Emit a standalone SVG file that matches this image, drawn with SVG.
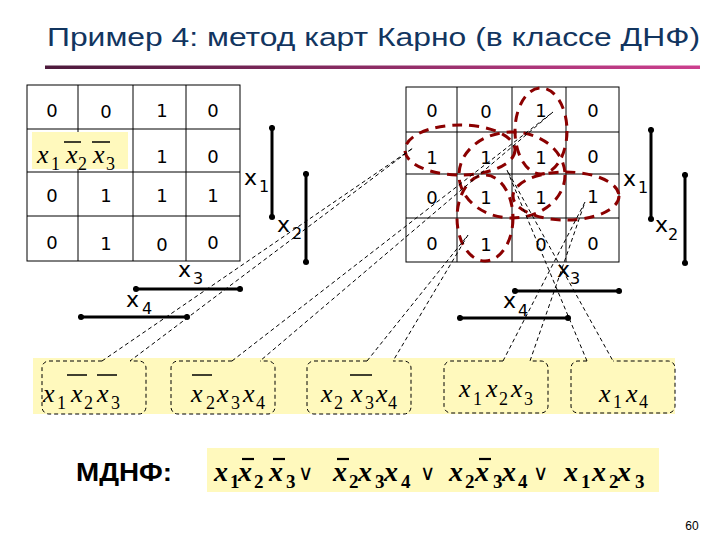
<svg xmlns="http://www.w3.org/2000/svg" width="720" height="540" viewBox="0 0 720 540">
<defs>
<linearGradient id="ul" x1="0" x2="1" y1="0" y2="0"><stop offset="0" stop-color="#4d1a3c"/><stop offset="1" stop-color="#cc3f8e"/></linearGradient>
<marker id="dot" viewBox="-4 -4 8 8" markerWidth="7" markerHeight="7" markerUnits="userSpaceOnUse"><circle r="3.5" fill="#000"/></marker>
</defs>
<style>
.grid{fill:none;stroke:#000;stroke-width:1}
.d{font-family:"DejaVu Sans",Verdana,sans-serif;font-size:18px;fill:#000;text-anchor:middle}
.lbl{font-family:"DejaVu Sans",Verdana,sans-serif;font-size:22px;fill:#000}
.lbl .s{font-size:16px}
.br{stroke:#000;stroke-width:3;marker-start:url(#dot);marker-end:url(#dot)}
.m{font-family:"Liberation Serif","Times New Roman",serif;font-style:italic;font-size:26px;fill:#000}
.m .s{font-size:18px;font-style:normal}
.mb{font-family:"Liberation Serif","Times New Roman",serif;font-style:italic;font-weight:bold;font-size:28px;fill:#000}
.mb .s{font-size:19px;font-style:normal}
.mb .or{font-family:"DejaVu Sans",sans-serif;font-weight:normal;font-style:normal;font-size:21px}
.bar{stroke:#000;stroke-width:1.5}
.barb{stroke:#000;stroke-width:2.2}
.ov{fill:none;stroke:#8b0000;stroke-width:3;stroke-dasharray:10 7}
.co{fill:none;stroke:#000;stroke-width:1;stroke-dasharray:4 3}
.cb{fill:none;stroke:#000;stroke-width:1;stroke-dasharray:4 3}
.hl{fill:#fff9bd}
</style>
<rect width="720" height="540" fill="#fff"/>

<g id="title">
<text x="47" y="46" font-family="Liberation Sans, Arial, sans-serif" font-size="25" fill="#12355f" textLength="653" lengthAdjust="spacingAndGlyphs">Пример 4: метод карт Карно (в классе ДНФ)</text>
<rect x="45" y="65.5" width="655" height="3.5" fill="url(#ul)"/>
</g>

<g id="map-left">
<rect class="grid" x="27" y="85" width="213" height="176"/>
<path class="grid" d="M78,85V261M133,85V261M186,85V261M27,129H240M27,172H240M27,216H240"/>
<rect class="hl" x="32" y="132" width="96" height="37"/>
<text class="m" y="163"><tspan x="37">x</tspan><tspan class="s" x="51" y="170">1</tspan><tspan x="66" y="163">x</tspan><tspan class="s" x="78" y="170">2</tspan><tspan x="93" y="163">x</tspan><tspan class="s" x="106" y="170">3</tspan></text>
<line class="bar" x1="64" y1="142" x2="81" y2="142"/>
<line class="bar" x1="92" y1="142" x2="110" y2="142"/>
<text class="d" x="52" y="117">0</text><text class="d" x="106" y="118">0</text><text class="d" x="162" y="117">1</text><text class="d" x="213" y="117">0</text>
<text class="d" x="162" y="163">1</text><text class="d" x="213" y="163">0</text>
<text class="d" x="52" y="202">0</text><text class="d" x="106" y="202">1</text><text class="d" x="162" y="202">1</text><text class="d" x="213" y="202">1</text>
<text class="d" x="52" y="249">0</text><text class="d" x="106" y="250">1</text><text class="d" x="162" y="251">0</text><text class="d" x="213" y="249">0</text>
</g>

<g id="vars-left">
<line class="br" x1="272" y1="128" x2="272" y2="217"/>
<line class="br" x1="306" y1="174" x2="306" y2="262"/>
<line class="br" x1="136" y1="289" x2="240" y2="289"/>
<line class="br" x1="81" y1="317" x2="187" y2="317"/>
<text class="lbl"><tspan x="244" y="185">x</tspan><tspan class="s" x="259" y="192">1</tspan></text>
<text class="lbl"><tspan x="277" y="232">x</tspan><tspan class="s" x="292" y="239">2</tspan></text>
<text class="lbl"><tspan x="178" y="277">x</tspan><tspan class="s" x="193" y="284">3</tspan></text>
<text class="lbl"><tspan x="126" y="307">x</tspan><tspan class="s" x="142" y="314">4</tspan></text>
</g>

<g id="map-right">
<rect class="grid" x="406" y="87" width="213" height="175"/>
<path class="grid" d="M457,87V262M512,87V262M566,87V262M406,132H619M406,174H619M406,218H619"/>
<text class="d" x="432" y="117">0</text><text class="d" x="486" y="118">0</text><text class="d" x="541" y="117">1</text><text class="d" x="593" y="117">0</text>
<text class="d" x="432" y="164">1</text><text class="d" x="486" y="164">1</text><text class="d" x="541" y="164">1</text><text class="d" x="593" y="163">0</text>
<text class="d" x="432" y="204">0</text><text class="d" x="486" y="204">1</text><text class="d" x="541" y="204">1</text><text class="d" x="593" y="203">1</text>
<text class="d" x="432" y="250">0</text><text class="d" x="486" y="251">1</text><text class="d" x="541" y="251">0</text><text class="d" x="593" y="250">0</text>
</g>

<g id="groups">
<ellipse class="ov" cx="460" cy="150" rx="55" ry="25"/>
<ellipse class="ov" cx="541" cy="131" rx="26" ry="43"/>
<ellipse class="ov" cx="512" cy="175" rx="53" ry="43"/>
<ellipse class="ov" cx="566" cy="196" rx="53" ry="24"/>
<ellipse class="ov" cx="485" cy="218" rx="28" ry="43"/>
</g>

<g id="vars-right">
<line class="br" x1="651" y1="130" x2="651" y2="219"/>
<line class="br" x1="685" y1="175" x2="685" y2="263"/>
<line class="br" x1="515" y1="291" x2="619" y2="291"/>
<line class="br" x1="460" y1="318" x2="568" y2="318"/>
<text class="lbl"><tspan x="623" y="186">x</tspan><tspan class="s" x="638" y="193">1</tspan></text>
<text class="lbl"><tspan x="655" y="232">x</tspan><tspan class="s" x="668" y="240">2</tspan></text>
<text class="lbl"><tspan x="557" y="277">x</tspan><tspan class="s" x="570" y="284">3</tspan></text>
<text class="lbl"><tspan x="503" y="308">x</tspan><tspan class="s" x="518" y="316">4</tspan></text>
</g>

<rect id="band" class="hl" x="33" y="358" width="642" height="56"/>

<g id="connectors">
<polyline class="co" points="102,361 413,148 130,361"/>
<polyline class="co" points="232,361 553,112 260,361"/>
<polyline class="co" points="367,361 468,235 393,361"/>
<polyline class="co" points="503,361 585,202 530,361"/>
<polyline class="co" points="587,361 507,170 613,361"/>
</g>

<g id="box1">
<path class="cb" d="M102,361H49A7 7 0 0 0 42,368V407A7 7 0 0 0 49,414H139A7 7 0 0 0 146,407V368A7 7 0 0 0 139,361H130"/>
<text class="m" y="402"><tspan x="43">x</tspan><tspan class="s" x="57" y="409">1</tspan><tspan x="71" y="402">x</tspan><tspan class="s" x="84" y="409">2</tspan><tspan x="97" y="402">x</tspan><tspan class="s" x="111" y="409">3</tspan></text>
<line class="bar" x1="67" y1="375" x2="87" y2="375"/>
<line class="bar" x1="97" y1="375" x2="117" y2="375"/>
</g>
<g id="box2">
<path class="cb" d="M232,361H178A7 7 0 0 0 171,368V407A7 7 0 0 0 178,414H268A7 7 0 0 0 275,407V368A7 7 0 0 0 268,361H260"/>
<text class="m" y="402"><tspan x="191">x</tspan><tspan class="s" x="206" y="409">2</tspan><tspan x="217" y="402">x</tspan><tspan class="s" x="231" y="409">3</tspan><tspan x="243" y="402">x</tspan><tspan class="s" x="256" y="409">4</tspan></text>
<line class="bar" x1="192" y1="375" x2="212" y2="375"/>
</g>
<g id="box3">
<path class="cb" d="M367,361H314A7 7 0 0 0 307,368V407A7 7 0 0 0 314,414H404A7 7 0 0 0 411,407V368A7 7 0 0 0 404,361H393"/>
<text class="m" y="402"><tspan x="321">x</tspan><tspan class="s" x="334" y="409">2</tspan><tspan x="351" y="402">x</tspan><tspan class="s" x="365" y="409">3</tspan><tspan x="376" y="402">x</tspan><tspan class="s" x="388" y="409">4</tspan></text>
<line class="bar" x1="350" y1="375" x2="372" y2="375"/>
</g>
<g id="box4">
<path class="cb" d="M503,361H451A7 7 0 0 0 444,368V406A7 7 0 0 0 451,413H541A7 7 0 0 0 548,406V368A7 7 0 0 0 541,361H530"/>
<text class="m" y="397"><tspan x="459">x</tspan><tspan class="s" x="473" y="405">1</tspan><tspan x="486" y="397">x</tspan><tspan class="s" x="499" y="405">2</tspan><tspan x="511" y="397">x</tspan><tspan class="s" x="524" y="405">3</tspan></text>
</g>
<g id="box5">
<path class="cb" d="M587,361H578A7 7 0 0 0 571,368V406A7 7 0 0 0 578,413H668A7 7 0 0 0 675,406V368A7 7 0 0 0 668,361H613"/>
<text class="m" y="402"><tspan x="599">x</tspan><tspan class="s" x="613" y="408">1</tspan><tspan x="626" y="402">x</tspan><tspan class="s" x="639" y="408">4</tspan></text>
</g>

<g id="mdnf">
<text x="76" y="481" font-family="Liberation Sans, Arial, sans-serif" font-weight="bold" font-size="25" textLength="96" lengthAdjust="spacingAndGlyphs">МДНФ:</text>
<rect class="hl" x="207" y="448" width="452" height="44"/>
<text class="mb" y="481"><tspan x="214">x</tspan><tspan class="s" x="230" y="488">1</tspan><tspan x="238" y="481">x</tspan><tspan class="s" x="254" y="488">2</tspan><tspan x="269" y="481">x</tspan><tspan class="s" x="286" y="488">3</tspan><tspan class="or" x="298" y="480">∨</tspan><tspan x="333" y="481">x</tspan><tspan class="s" x="349" y="488">2</tspan><tspan x="358" y="481">x</tspan><tspan class="s" x="375" y="488">3</tspan><tspan x="384" y="481">x</tspan><tspan class="s" x="401" y="488">4</tspan><tspan class="or" x="420" y="480">∨</tspan><tspan x="449" y="481">x</tspan><tspan class="s" x="465" y="488">2</tspan><tspan x="475" y="481">x</tspan><tspan class="s" x="493" y="488">3</tspan><tspan x="502" y="481">x</tspan><tspan class="s" x="518" y="488">4</tspan><tspan class="or" x="533" y="480">∨</tspan><tspan x="564" y="481">x</tspan><tspan class="s" x="581" y="488">1</tspan><tspan x="592" y="481">x</tspan><tspan class="s" x="609" y="488">2</tspan><tspan x="617" y="481">x</tspan><tspan class="s" x="635" y="488">3</tspan></text>
<line class="barb" x1="242" y1="459" x2="254" y2="459"/>
<line class="barb" x1="273" y1="459" x2="285" y2="459"/>
<line class="barb" x1="337" y1="459" x2="349" y2="459"/>
<line class="barb" x1="479" y1="459" x2="491" y2="459"/>
</g>

<text id="page" x="692" y="530" font-family="Liberation Sans, Arial, sans-serif" font-size="12" text-anchor="middle">60</text>
</svg>
